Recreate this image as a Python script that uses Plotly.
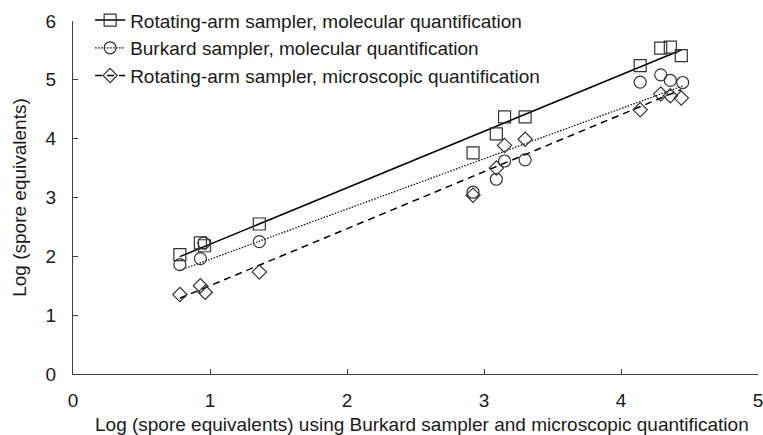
import numpy as np
import plotly.graph_objects as go

x_burkard_micro = [0.78, 0.93, 0.96, 1.36, 2.92, 3.09, 3.15, 3.30, 4.14, 4.29, 4.36, 4.44]
y_rot_mol = [2.03, 2.23, 2.18, 2.55, 3.76, 4.08, 4.37, 4.37, 5.24, 5.54, 5.555, 5.41]
x_burkard_mol = [0.78, 0.93, 0.955, 1.36, 2.92, 3.09, 3.15, 3.30, 4.14, 4.29, 4.36, 4.45]
y_burkard_mol = [1.86, 1.96, 2.23, 2.25, 3.09, 3.31, 3.62, 3.64, 4.96, 5.085, 4.99, 4.955]
x_rot_micro = [0.78, 0.93, 0.965, 1.36, 2.92, 3.09, 3.15, 3.30, 4.14, 4.29, 4.36, 4.44]
y_rot_micro = [1.35, 1.50, 1.39, 1.735, 3.04, 3.50, 3.885, 3.99, 4.49, 4.76, 4.73, 4.69]

x_title = "Log (spore equivalents) using Burkard sampler and microscopic quantification"
y_title = "Log (spore equivalents)"

series = [
    ("Rotating-arm sampler, molecular quantification", x_burkard_micro, y_rot_mol, "square-open", 12, "solid", 1.5),
    ("Burkard sampler, molecular quantification", x_burkard_mol, y_burkard_mol, "circle-open", 12, "1.5px,1.5px", 1.2),
    ("Rotating-arm sampler, microscopic quantification", x_rot_micro, y_rot_micro, "diamond-open", 11, "7px,5px", 1.5),
]

fig = go.Figure()
for name, xs, ys, sym, size, dash, lw in series:
    xa = np.array(xs)
    ya = np.array(ys)
    k, b = np.polyfit(xa, ya, 1)
    xl = np.array([xa.min(), xa.max()])
    fig.add_trace(go.Scatter(
        x=xl, y=k * xl + b, mode="lines",
        line=dict(color="black", width=lw, dash=dash),
        showlegend=False, hoverinfo="skip"))
    fig.add_trace(go.Scatter(
        x=xs, y=ys, mode="markers", name=name,
        marker=dict(symbol=sym, size=size, color="#333333",
                    line=dict(color="#333333", width=1.2)),
        showlegend=False))
    fig.add_trace(go.Scatter(
        x=[None], y=[None], mode="lines+markers", name=name,
        line=dict(color="black", width=lw, dash=dash),
        marker=dict(symbol=sym, size=size, color="#333333",
                    line=dict(color="#333333", width=1.2))))

fig.add_annotation(text=x_title, xref="paper", yref="paper", x=0.5095, y=-0.143,
                   xanchor="center", yanchor="middle", showarrow=False,
                   font=dict(size=19))

fig.update_layout(
    width=763, height=435,
    margin=dict(l=73, r=5, t=21, b=61, autoexpand=False),
    paper_bgcolor="white", plot_bgcolor="white",
    font=dict(family="Liberation Sans, Arial, sans-serif", size=19, color="#1a1a1a"),
    showlegend=True,
    legend=dict(x=0.025, y=1.056, xanchor="left", yanchor="top",
                bgcolor="rgba(0,0,0,0)", font=dict(size=19),
                itemwidth=30, tracegroupgap=0),
    xaxis=dict(range=[0, 5], tickvals=[0, 1, 2, 3, 4, 5], showgrid=False, zeroline=False,
               showline=True, linecolor="#404040", linewidth=1.2,
               ticks="inside", ticklen=5, tickcolor="#404040",
               ticklabelstandoff=9, ticklabeloverflow="allow"),
    yaxis=dict(range=[0, 6], tickvals=[0, 1, 2, 3, 4, 5, 6], showgrid=False, zeroline=False,
               showline=True, linecolor="#404040", linewidth=1.2,
               ticks="inside", ticklen=5, tickcolor="#404040",
               ticklabelstandoff=12, ticklabeloverflow="allow",
               title=dict(text=y_title, standoff=13, font=dict(size=19))),
)

fig.write_html("out.html")
